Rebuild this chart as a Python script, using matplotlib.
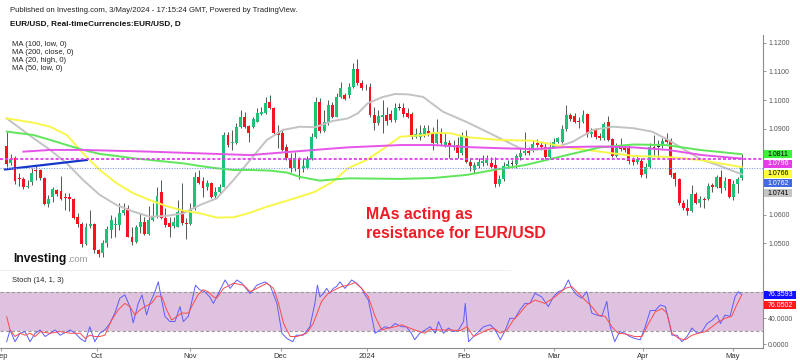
import matplotlib
matplotlib.use('Agg')
import matplotlib.pyplot as plt
from matplotlib.patches import Rectangle
import numpy as np

plt.rcParams['font.family'] = ['Liberation Sans', 'DejaVu Sans']

# daily EUR/USD candles, one per trading day (early Sep 2023 .. 3 May 2024)
opens = [1.0841, 1.0779, 1.0799, 1.0726, 1.0726, 1.0698, 1.0715, 1.0756, 1.0756, 1.0729,
         1.0637, 1.0661, 1.0686, 1.0683, 1.0661, 1.0661, 1.0655, 1.0593, 1.0568, 1.0498,
         1.0561, 1.0568, 1.0477, 1.0468, 1.0500, 1.0547, 1.0565, 1.0565, 1.0605, 1.0623,
         1.0523, 1.0506, 1.0556, 1.0576, 1.0533, 1.0582, 1.0593, 1.0680, 1.0588, 1.0570,
         1.0561, 1.0558, 1.0614, 1.0572, 1.0567, 1.0619, 1.0731, 1.0719, 1.0696, 1.0709,
         1.0665, 1.0680, 1.0698, 1.0878, 1.0849, 1.0849, 1.0905, 1.0940, 1.0909, 1.0905,
         1.0924, 1.0951, 1.0954, 1.0994, 1.0971, 1.0890, 1.0886, 1.0835, 1.0797, 1.0762,
         1.0797, 1.0763, 1.0762, 1.0793, 1.0872, 1.0994, 1.0893, 1.0924, 1.0983, 1.0942,
         1.1012, 1.1017, 1.1017, 1.1047, 1.1107, 1.1058, 1.1046, 1.1047, 1.0948, 1.0921,
         1.0942, 1.0948, 1.0952, 1.0930, 1.0972, 1.0971, 1.0956, 1.0951, 1.0872, 1.0870,
         1.0878, 1.0893, 1.0884, 1.0851, 1.0886, 1.0843, 1.0849, 1.0835, 1.0843, 1.0814,
         1.0875, 1.0785, 1.0756, 1.0770, 1.0780, 1.0781, 1.0781, 1.0773, 1.0707, 1.0724,
         1.0770, 1.0777, 1.0777, 1.0800, 1.0816, 1.0823, 1.0823, 1.0851, 1.0843, 1.0835,
         1.0800, 1.0837, 1.0855, 1.0855, 1.0898, 1.0948, 1.0944, 1.0927, 1.0924, 1.0951,
         1.0883, 1.0896, 1.0875, 1.0866, 1.0924, 1.0863, 1.0805, 1.0840, 1.0835, 1.0837,
         1.0791, 1.0784, 1.0789, 1.0742, 1.0768, 1.0836, 1.0835, 1.0840, 1.0863, 1.0861,
         1.0745, 1.0724, 1.0640, 1.0623, 1.0614, 1.0672, 1.0642, 1.0654, 1.0654, 1.0703,
         1.0698, 1.0733, 1.0692, 1.0724, 1.0663, 1.0707, 1.0728]
highs = [1.0890, 1.0812, 1.0805, 1.0745, 1.0733, 1.0721, 1.0762, 1.0770, 1.0759, 1.0731,
         1.0669, 1.0696, 1.0689, 1.0736, 1.0675, 1.0675, 1.0657, 1.0607, 1.0576, 1.0570,
         1.0617, 1.0571, 1.0480, 1.0512, 1.0561, 1.0600, 1.0593, 1.0640, 1.0640, 1.0634,
         1.0558, 1.0565, 1.0605, 1.0593, 1.0630, 1.0640, 1.0698, 1.0721, 1.0623, 1.0593,
         1.0593, 1.0651, 1.0709, 1.0588, 1.0640, 1.0750, 1.0756, 1.0733, 1.0721, 1.0714,
         1.0696, 1.0707, 1.0889, 1.0890, 1.0896, 1.0919, 1.0965, 1.0959, 1.0912, 1.0942,
         1.0971, 1.0977, 1.1012, 1.1017, 1.0977, 1.0913, 1.0896, 1.0847, 1.0814, 1.0819,
         1.0803, 1.0797, 1.0805, 1.0884, 1.1012, 1.1006, 1.0965, 1.1000, 1.0994, 1.1023,
         1.1063, 1.1023, 1.1058, 1.1128, 1.1142, 1.1070, 1.1056, 1.1058, 1.0977, 1.0965,
         1.1000, 1.0977, 1.0965, 1.0989, 1.0989, 1.0989, 1.0971, 1.0958, 1.0901, 1.0913,
         1.0913, 1.0913, 1.0905, 1.0933, 1.0904, 1.0884, 1.0861, 1.0861, 1.0872, 1.0890,
         1.0896, 1.0798, 1.0784, 1.0798, 1.0808, 1.0808, 1.0803, 1.0803, 1.0739, 1.0785,
         1.0791, 1.0791, 1.0812, 1.0832, 1.0890, 1.0837, 1.0861, 1.0863, 1.0855, 1.0855,
         1.0855, 1.0866, 1.0872, 1.0913, 1.0983, 1.0954, 1.0954, 1.0942, 1.0965, 1.0954,
         1.0901, 1.0903, 1.0885, 1.0924, 1.0944, 1.0868, 1.0850, 1.0866, 1.0843, 1.0843,
         1.0801, 1.0805, 1.0797, 1.0780, 1.0849, 1.0878, 1.0861, 1.0866, 1.0884, 1.0866,
         1.0749, 1.0727, 1.0651, 1.0654, 1.0703, 1.0680, 1.0665, 1.0663, 1.0712, 1.0710,
         1.0739, 1.0756, 1.0731, 1.0725, 1.0721, 1.0733, 1.0811]
lows = [1.0768, 1.0773, 1.0707, 1.0700, 1.0689, 1.0692, 1.0703, 1.0721, 1.0721, 1.0634,
        1.0628, 1.0645, 1.0665, 1.0651, 1.0617, 1.0614, 1.0586, 1.0558, 1.0488, 1.0494,
        1.0554, 1.0465, 1.0454, 1.0454, 1.0488, 1.0520, 1.0523, 1.0547, 1.0599, 1.0521,
        1.0494, 1.0501, 1.0535, 1.0530, 1.0530, 1.0579, 1.0589, 1.0586, 1.0558, 1.0523,
        1.0554, 1.0556, 1.0565, 1.0517, 1.0565, 1.0617, 1.0707, 1.0663, 1.0686, 1.0658,
        1.0654, 1.0677, 1.0696, 1.0837, 1.0826, 1.0847, 1.0902, 1.0901, 1.0855, 1.0901,
        1.0922, 1.0948, 1.0951, 1.0969, 1.0882, 1.0832, 1.0822, 1.0791, 1.0750, 1.0753,
        1.0724, 1.0749, 1.0758, 1.0791, 1.0868, 1.0884, 1.0889, 1.0913, 1.0937, 1.0940,
        1.1008, 1.1000, 1.1007, 1.1041, 1.1053, 1.1035, 1.1035, 1.0942, 1.0896, 1.0913,
        1.0884, 1.0913, 1.0924, 1.0924, 1.0965, 1.0942, 1.0937, 1.0864, 1.0867, 1.0861,
        1.0872, 1.0875, 1.0826, 1.0847, 1.0843, 1.0836, 1.0797, 1.0826, 1.0797, 1.0808,
        1.0781, 1.0753, 1.0745, 1.0763, 1.0770, 1.0773, 1.0763, 1.0698, 1.0700, 1.0718,
        1.0763, 1.0763, 1.0763, 1.0791, 1.0808, 1.0808, 1.0819, 1.0836, 1.0826, 1.0793,
        1.0797, 1.0833, 1.0850, 1.0850, 1.0892, 1.0927, 1.0920, 1.0901, 1.0920, 1.0872,
        1.0872, 1.0864, 1.0861, 1.0861, 1.0857, 1.0803, 1.0801, 1.0822, 1.0819, 1.0777,
        1.0773, 1.0777, 1.0733, 1.0728, 1.0763, 1.0808, 1.0797, 1.0833, 1.0849, 1.0733,
        1.0700, 1.0634, 1.0617, 1.0599, 1.0610, 1.0637, 1.0628, 1.0623, 1.0651, 1.0680,
        1.0693, 1.0675, 1.0686, 1.0658, 1.0651, 1.0675, 1.0721]
closes = [1.0777, 1.0794, 1.0719, 1.0725, 1.0698, 1.0700, 1.0745, 1.0754, 1.0727, 1.0637,
          1.0655, 1.0690, 1.0672, 1.0655, 1.0660, 1.0654, 1.0588, 1.0567, 1.0498, 1.0558,
          1.0568, 1.0477, 1.0463, 1.0500, 1.0549, 1.0580, 1.0568, 1.0605, 1.0617, 1.0523,
          1.0506, 1.0556, 1.0576, 1.0533, 1.0582, 1.0593, 1.0665, 1.0588, 1.0565, 1.0558,
          1.0576, 1.0611, 1.0572, 1.0567, 1.0619, 1.0731, 1.0712, 1.0692, 1.0709, 1.0661,
          1.0680, 1.0698, 1.0878, 1.0843, 1.0855, 1.0905, 1.0940, 1.0905, 1.0886, 1.0934,
          1.0955, 1.0959, 1.0988, 1.0971, 1.0884, 1.0878, 1.0826, 1.0797, 1.0762, 1.0797,
          1.0758, 1.0770, 1.0793, 1.0872, 1.0994, 1.0893, 1.0924, 1.0983, 1.0942, 1.1012,
          1.1041, 1.1002, 1.1047, 1.1107, 1.1058, 1.1041, 1.1044, 1.0948, 1.0919, 1.0944,
          1.0948, 1.0928, 1.0932, 1.0971, 1.0972, 1.0951, 1.0942, 1.0870, 1.0881, 1.0884,
          1.0901, 1.0881, 1.0849, 1.0886, 1.0849, 1.0855, 1.0835, 1.0843, 1.0814, 1.0875,
          1.0785, 1.0770, 1.0773, 1.0785, 1.0787, 1.0791, 1.0767, 1.0706, 1.0724, 1.0770,
          1.0777, 1.0777, 1.0805, 1.0816, 1.0823, 1.0816, 1.0846, 1.0843, 1.0835, 1.0800,
          1.0837, 1.0855, 1.0866, 1.0898, 1.0948, 1.0934, 1.0924, 1.0925, 1.0948, 1.0881,
          1.0887, 1.0870, 1.0866, 1.0916, 1.0861, 1.0805, 1.0840, 1.0828, 1.0826, 1.0789,
          1.0784, 1.0793, 1.0739, 1.0768, 1.0837, 1.0834, 1.0835, 1.0858, 1.0855, 1.0739,
          1.0724, 1.0640, 1.0623, 1.0614, 1.0672, 1.0642, 1.0654, 1.0653, 1.0700, 1.0696,
          1.0731, 1.0692, 1.0719, 1.0663, 1.0707, 1.0724, 1.0762]

# moving averages at sample points (candle index, price)
ma100_x = [0, 6.4, 10.4, 14.4, 18.3, 22.3, 26.3, 30.3, 34.3, 38.3, 42.3, 46.3, 50.3, 54.3, 58.3,
           63, 67.1, 70.2, 75, 81.8, 94.2, 102.1, 110.2, 118.1, 124.1, 134.1, 142.1, 150.1, 158, 166, 176]
ma100 = [1.0890, 1.0878, 1.0861, 1.0843, 1.0826, 1.0812, 1.0805, 1.0797, 1.0791, 1.0785, 1.0779,
         1.0770, 1.0762, 1.0756, 1.0756, 1.0754, 1.0747, 1.0732, 1.0719, 1.0727, 1.0725, 1.0728,
         1.0739, 1.0760, 1.0773, 1.0808, 1.0835, 1.0845, 1.0843, 1.0826, 1.0811]
ma200_x = [4, 10.4, 18.3, 26.3, 34.3, 42.3, 50.3, 58.3, 70.2, 81.7, 94.2, 102.1, 110.2, 118.1,
           126, 134.1, 142.1, 150, 158.4, 166.5, 176]
ma200 = [1.0820, 1.0826, 1.0826, 1.0823, 1.0820, 1.0816, 1.0812, 1.0808, 1.0822, 1.0835, 1.0843,
         1.0843, 1.0836, 1.0832, 1.0829, 1.0836, 1.0838, 1.0835, 1.0826, 1.0808, 1.0796]
ma20_x = [0, 6.4, 10.4, 14.4, 18.3, 22.3, 26.3, 30.3, 34.3, 38.3, 42.3, 46.3, 50.3, 54.3, 58.3,
          62.3, 66.2, 70.2, 73.8, 78.1, 81.7, 84.1, 86.5, 89.9, 93, 96.1, 99.7, 104.5, 110.2, 115,
          118.9, 122.9, 126, 130.8, 135.6, 140.4, 145.2, 150, 154.5, 158.4, 162.4, 166.5, 170.3, 176]
ma20 = [1.0936, 1.0867, 1.0826, 1.0779, 1.0721, 1.0669, 1.0634, 1.0611, 1.0593, 1.0596, 1.0605,
        1.0634, 1.0657, 1.0721, 1.0791, 1.0861, 1.0896, 1.0907, 1.0905, 1.0927, 1.0936, 1.0954,
        1.0989, 1.1010, 1.1021, 1.1020, 1.1011, 1.0959, 1.0923, 1.0889, 1.0861, 1.0832, 1.0826,
        1.0832, 1.0855, 1.0896, 1.0907, 1.0902, 1.0890, 1.0861, 1.0826, 1.0791, 1.0773, 1.0741]
ma50_x = [0, 6.4, 10.4, 14.4, 18.3, 22.3, 26.3, 30.3, 34.3, 38.3, 42.3, 46.3, 50.3, 54.3, 58.3,
          62.3, 66.2, 70.2, 73.8, 78.1, 81.7, 86.2, 89.8, 94.2, 97.1, 100.2, 102.2, 106.3, 110.2,
          118.1, 126.1, 134.1, 142.1, 150.1, 158, 166, 176]
ma50 = [1.0936, 1.0921, 1.0907, 1.0878, 1.0814, 1.0756, 1.0710, 1.0675, 1.0651, 1.0630, 1.0614,
        1.0605, 1.0590, 1.0591, 1.0607, 1.0628, 1.0645, 1.0663, 1.0680, 1.0715, 1.0762, 1.0791,
        1.0826, 1.0872, 1.0875, 1.0878, 1.0886, 1.0884, 1.0870, 1.0861, 1.0858, 1.0835, 1.0820,
        1.0805, 1.0802, 1.0791, 1.0766]

trend_x = [-0.4, 19.2]
trend_y = [1.0758, 1.0791]
level_line = 1.0796
last_price = 1.0762

# stochastic (14, 1, 3) read at sample points
k_x = [0, 0.8, 2, 3.2, 4.4, 5.6, 6.8, 8, 9.2, 10.4, 11.6, 12.8, 14, 15.2, 16.4, 17.6, 18.8, 19.9,
       21.1, 22.3, 23.5, 24.7, 25.9, 27.1, 28.3, 29.5, 30.3, 31.5, 32.4, 33.5, 34.3, 35.5, 36.3,
       37.1, 37.9, 39.1, 40.3, 41.5, 42.3, 43.5, 44.4, 45.2, 46.2, 47.4, 48.6, 49.5, 52.3, 53.5,
       55.1, 56.3, 58.3, 59.9, 61.9, 63.1, 64.7, 65.9, 67.1, 68.5, 69.3, 71.0, 72.6, 73.8, 74.4,
       75, 75.8, 76.6, 77.4, 78.2, 79, 79.8, 81, 82.6, 83.8, 85, 85.8, 86.6, 87.4, 88.2, 89.4,
       90.6, 91.8, 93, 94.6, 95.7, 96.9, 97.7, 98.9, 100.2, 101.4, 102.6, 103.4, 104.6, 105.8,
       107, 108.2, 109.4, 109.8, 110.6, 111.8, 113, 114.2, 115.8, 117, 118.2, 119.4, 120.5,
       121.7, 122.9, 124.1, 125.3, 126.5, 128.1, 129.7, 130.9, 132.1, 133.3, 134.5, 135.3,
       136.5, 137.7, 138.9, 140.1, 141.3, 142.5, 143.7, 144.5, 145.6, 146.8, 148, 149.2, 150.4,
       151.7, 152.9, 154.1, 155.3, 156.5, 157.7, 158.5, 159.3, 160.5, 161.7, 162.9, 164.1,
       165.3, 166.5, 167.7, 168.9, 170.1, 170.9, 172.0, 173.2, 174.4, 175.2, 176]
k_val = [4, 22, 4, 17, 19.5, 4, 17, 22, 12, 17, 22, 14, 18, 22, 17, 9, 4, 27,
         4, 17, 22, 32, 48, 71, 76, 58, 33, 63, 76, 45, 63, 81, 96,
         68, 43, 35, 35, 58, 35, 43, 68, 91, 84, 81, 73, 63, 99, 86,
         99, 94, 78, 91, 96, 90, 63, 17, 9, 4, 14, 14, 27, 63, 91,
         73, 78, 86, 78.5, 86, 89, 96, 86, 99, 94, 86, 76, 68, 43, 17, 22,
         27, 25, 32, 27, 27, 17, 7, 17, 22, 27, 17, 35, 17, 25,
         19.5, 22, 35, 63, 4, 12, 19.5, 27, 30, 22, 7, 22, 40,
         40, 53, 63, 63, 78.5, 73, 58, 73, 81, 84, 99, 86,
         76, 71, 81, 48, 45, 43, 66, 27, 4, 19.5, 17, 12, 9,
         7, 27, 52, 52, 60.5, 58, 37, 14, 14, 4, 12, 25,
         17, 19.5, 32, 37, 45, 32, 45, 43, 73, 81, 76.3593]
d_x = [0, 0.8, 2, 3.2, 4.4, 5.6, 6.8, 8, 10.4, 12.8, 15.2, 17.6, 18.8, 19.9, 21.1, 22.3,
       23.5, 25.1, 26.7, 28.3, 29.5, 30.7, 31.9, 33.1, 34.7, 35.9, 37.1, 38.3, 39.5, 40.7,
       41.9, 43.5, 44.7, 45.8, 47, 48.2, 49.5, 50.3, 51.9, 54.3, 56.7, 58.3, 59.9, 62.3, 63.9,
       65.1, 66.3, 67.9, 69.5, 71.8, 73.4, 75.4, 77, 78.6, 80.2, 81.8, 83.4, 85, 86.6, 88.2,
       89.8, 91.4, 93, 94.6, 96.1, 97.7, 100.1, 101.4, 103.8, 106.2, 108.6, 110.2, 111.8, 113.4,
       115, 116.6, 118.2, 119.8, 121.3, 122.9, 124.5, 126.5, 128.9, 131.3, 133.7, 135.3, 136.9,
       138.5, 140.1, 141.7, 143.3, 144.9, 146.4, 148, 150.4, 152.1, 153.7, 155.3, 156.9, 158.1,
       159.3, 160.9, 162.5, 164.1, 165.7, 167.3, 168.9, 170.5, 172, 173.6, 174.8, 176]
d_val = [42.5, 22, 12, 17, 14, 17, 12, 19.5, 17, 19.5, 17, 17, 9, 14, 12, 12,
         14, 37, 53, 63, 58, 45, 53, 58, 63, 74, 74, 53, 37.5, 42.6,
         48, 48, 63, 76, 84, 81, 73, 71, 86, 94, 91, 81, 86, 94, 86,
         63, 32, 12, 12, 17, 32, 66, 78.5, 84, 89, 91, 95, 86, 73, 43,
         22, 25, 27, 30, 26, 22, 17, 23, 22, 22, 21, 27, 12, 17,
         22, 25, 17, 22, 37, 48, 60.5, 68, 63, 73, 86, 89, 78.5,
         68, 58, 45, 43, 27, 17, 16, 12, 12, 32, 50, 55, 48,
         17, 9, 7, 14, 17, 19.5, 27, 35, 40, 43, 60.5, 76.0502]

month_pos = [-1.25, 21.6, 44.0, 65.6, 86.3, 109.5, 131.0, 152.4, 173.9]
month_labels = ['Sep', 'Oct', 'Nov', 'Dec', '2024', 'Feb', 'Mar', 'Apr', 'May']
price_ticks = [1.05, 1.06, 1.09, 1.10, 1.11, 1.12]

# value boxes on the price scale: (value, box colour, text colour)
price_boxes = [(1.0811, '#3df23d', 'black'), (1.0796, '#e63ce6', 'white'),
               (1.0766, '#ffff3c', 'black'), (last_price, '#4169e1', 'white'),
               (1.0741, '#c4c4c4', 'black')]
stoch_boxes = [(76.3593, '#1010ff', 'white'), (76.0502, '#ff1a1a', 'white')]

W, H = 800, 363
GREEN, RED, WICK = '#1dc276', '#f5141e', '#4f5a4f'
AXC = '#8c8c8c'


def fx(x):
    return x / W


def fy(y):
    return 1 - y / H


fig = plt.figure(figsize=(W / 100, H / 100), dpi=100)
ax = fig.add_axes([0, fy(271), fx(763), fy(35) - fy(271)])
st = fig.add_axes([0, fy(348), fx(763), fy(271) - fy(348)])
xlim = (-1.6, 181.1)

# --- price pane
o, hi, lo, c = map(np.array, (opens, highs, lows, closes))
idx = np.arange(len(o))
flat = np.abs(c - o) < 0.00008
cols = np.where(flat, '#333333', np.where(c > o, GREEN, RED))
ax.vlines(idx, lo, hi, color=WICK, lw=0.7, zorder=2)
ax.bar(idx, np.maximum(np.abs(c - o), 0.0003), 0.7, bottom=np.minimum(o, c),
       color=cols, lw=0, zorder=3)

ax.plot(ma20_x, ma20, color='#c3c3c3', lw=1.4, zorder=4)
ax.plot(ma50_x, ma50, color='#f7f74a', lw=1.4, zorder=4)
ax.plot(ma100_x, ma100, color='#5fe65a', lw=1.4, zorder=4)
ax.plot(ma200_x, ma200, color='#e455e8', lw=1.4, zorder=4)
ax.plot(trend_x, trend_y, color='#1437c8', lw=1.6, zorder=5)
ax.axhline(level_line, color='#e040f0', lw=1.3, ls=(0, (1.7, 1.1)), zorder=5)
ax.axhline(last_price, color='#7f9cf5', lw=0.8, ls=(0, (1, 1.3)), zorder=5)

ax.set_xlim(*xlim)
ax.set_ylim(1.04037, 1.12269)
ax.set_xticks([])
ax.set_yticks(price_ticks)
ax.set_yticklabels([f'{t:.4f}' for t in price_ticks])
ax.yaxis.tick_right()
ax.tick_params(axis='y', length=2, width=0.6, color=AXC, labelsize=5, labelcolor='#555', pad=1.6)
for s in ['top', 'left', 'bottom']:
    ax.spines[s].set_visible(False)
ax.spines['right'].set_color(AXC)
ax.spines['right'].set_linewidth(0.8)
ax.axhline(1.04037, xmin=0, xmax=510 / 763, color=AXC, lw=0.9, clip_on=False)

# --- stochastic pane
st.axhspan(20, 80, color='#dfc2df', lw=0, zorder=1)
for lvl in (20, 80):
    st.axhline(lvl, color='#9a9a9a', lw=0.8, ls=(0, (3, 2)), zorder=2)
st.plot(k_x, k_val, color='#5c5cff', lw=0.7, zorder=3)
st.plot(d_x, d_val, color='#ff4a4a', lw=0.7, zorder=3)
st.set_xlim(*xlim)
st.set_ylim(-5.7, 112.8)
st.set_yticks([0, 40])
st.set_yticklabels(['0.0000', '40.0000'])
st.yaxis.tick_right()
st.tick_params(axis='y', length=2, width=0.6, color=AXC, labelsize=5, labelcolor='#555', pad=1.6)
st.set_xticks(month_pos)
st.set_xticklabels(month_labels)
st.tick_params(axis='x', length=2.5, width=0.6, color=AXC, labelsize=5.5, labelcolor='#333', pad=1.2)
for s in ['top', 'left']:
    st.spines[s].set_visible(False)
for s in ['right', 'bottom']:
    st.spines[s].set_color(AXC)
    st.spines[s].set_linewidth(0.8)


def value_boxes(axis, boxes, fmt, width, gap):
    prev = None
    for v, bg, tc in boxes:
        y = axis.transData.transform((0, v))[1]
        if prev is not None and y > prev - gap:
            y = prev - gap
        prev = y
        fig.patches.append(Rectangle((764 / W, (y - 3.9) / H), width / W, 7.8 / H,
                                     transform=fig.transFigure, color=bg, lw=0))
        fig.text(767.5 / W, y / H, fmt.format(v), ha='left', va='center',
                 fontsize=5, color=tc)


value_boxes(ax, price_boxes, '{:.4f}', 28, 9.7)
value_boxes(st, stoch_boxes, '{:.4f}', 32, 10.5)

# --- texts
fig.text(fx(10), fy(10.5), 'Published on Investing.com, 3/May/2024 - 17:15:24 GMT, Powered by TradingView.',
         fontsize=5.6, color='#222', va='center')
fig.text(fx(10), fy(24), 'EUR/USD, Real-timeCurrencies:EUR/USD, D',
         fontsize=5.9, fontweight='bold', color='#111', va='center')
for k, name in enumerate(['MA (100, low, 0)', 'MA (200, close, 0)', 'MA (20, high, 0)', 'MA (50, low, 0)']):
    fig.text(fx(12), fy(44.5 + 8 * k), name, fontsize=5.5, color='#222', va='center')
fig.text(fx(12), fy(281), 'Stoch (14, 1, 3)', fontsize=5.4, color='#222', va='center')
fig.text(fx(13), fy(261.7), 'Investing', fontsize=8.7, fontweight='bold', color='#111', va='baseline')
fig.text(fx(66.7), fy(261.7), '.com', fontsize=6.8, color='#999', va='baseline')
fig.text(fx(366.5), fy(215), 'MAs acting as', fontsize=11.4, fontweight='bold',
         color='#ee1c25', va='center')
fig.text(fx(366.5), fy(233.3), 'resistance for EUR/USD', fontsize=11.4, fontweight='bold',
         color='#ee1c25', va='center')

fig.savefig('out.png', dpi=100, facecolor='white')
